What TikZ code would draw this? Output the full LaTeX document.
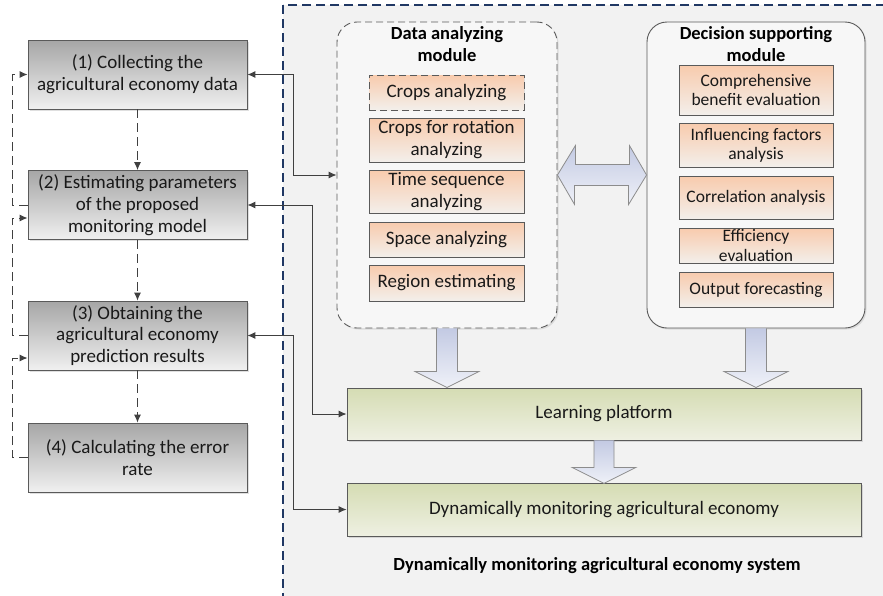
\documentclass[tikz,border=0pt]{standalone}
\usepackage{fontspec}
\setmainfont{Carlito}
\usetikzlibrary{arrows.meta,calc,shadows}

\definecolor{edgegray}{HTML}{5A5A5A}
\definecolor{linkgray}{HTML}{404040}
\definecolor{navy}{HTML}{203864}
\definecolor{grayTop}{HTML}{A6A6A6}
\definecolor{grayBot}{HTML}{F0F0F0}
\definecolor{peachTop}{HTML}{F8CBAD}
\definecolor{peachBot}{HTML}{F3EFEB}
\definecolor{oliveTop}{HTML}{D5DCB3}
\definecolor{oliveBot}{HTML}{EEF0E2}
\definecolor{fatTop}{HTML}{C3CAE3}
\definecolor{fatBot}{HTML}{EFF1F8}

% block arrow pointing down: start, half shaft, shoulder, tip
\newcommand{\downblock}[4]{%
  \draw[fat] (#1) +(-#2,0) -- +(-#2,#3) -- +(-32,#3) -- +(0,#4) -- +(32,#3) -- +(#2,#3) -- +(#2,0);}

\begin{document}
\begin{tikzpicture}[x=1pt,y=-1pt,
    stepbox/.style={draw=edgegray, line width=0.8pt, top color=grayTop, bottom color=grayBot,
      minimum width=219pt, minimum height=69pt, align=center, text=black!90,
      font=\fontsize{19}{21.7}\selectfont,
      drop shadow={shadow xshift=1.5pt, shadow yshift=-1.5pt, opacity=0.25}},
    subbox/.style={draw=edgegray, line width=0.8pt, top color=peachTop, bottom color=peachBot,
      minimum width=155pt, align=center, text=black!90, inner sep=1pt,
      font=\fontsize{19}{22}\selectfont,
      drop shadow={shadow xshift=1pt, shadow yshift=-1pt, opacity=0.2}},
    module/.style={draw=edgegray, line width=0.9pt, fill=white!97!black, rounded corners=20pt,
      minimum width=220pt, minimum height=306pt,
      drop shadow={shadow xshift=1.5pt, shadow yshift=-1.5pt, opacity=0.2}},
    title/.style={align=center, font=\fontsize{18.5}{21.7}\selectfont\bfseries},
    platbox/.style={draw=edgegray, line width=0.8pt, top color=oliveTop, bottom color=oliveBot,
      minimum width=514pt, minimum height=52pt, text=black!90,
      font=\fontsize{19}{22}\selectfont,
      drop shadow={shadow xshift=1.5pt, shadow yshift=-1.5pt, opacity=0.25}},
    fat/.style={draw=black!45, line width=0.8pt, top color=fatTop, bottom color=fatBot},
    link/.style={draw=linkgray, line width=1pt, {Latex[length=8pt,width=7pt]}-{Latex[length=8pt,width=7pt]}},
    back/.style={draw=linkgray, line width=1pt, dash pattern=on 9pt off 5pt, -{Latex[length=8pt,width=7pt]}}]

    \useasboundingbox (0,0) rectangle (883,595);

    % system frame
    \path[fill=white!95!black, draw=navy, line width=1.4pt, dash pattern=on 9pt off 5pt] (283,5) rectangle (900,620);

    % steps
    \node[stepbox] (s1) at (137.5,74.5) {(1) Collecting the\\agricultural economy data};
    \node[stepbox] (s2) at (137.5,205) {(2) Estimating parameters\\of the proposed\\monitoring model};
    \node[stepbox] (s3) at (137.5,335.5) {(3) Obtaining the\\agricultural economy\\prediction results};
    \node[stepbox] (s4) at (137.5,457.5) {(4) Calculating the error\\rate};

    % modules
    \node[module, dash pattern=on 7pt off 4pt] (da) at (447,175) {};
    \node[title] (dat) at (447,44) {Data analyzing\\module};
    \node[subbox, minimum height=35pt, dash pattern=on 7pt off 4pt] (d1) at (446.5,92.5) {Crops analyzing};
    \node[subbox, minimum height=44pt] (d2) at (446.5,140) {Crops for rotation\\analyzing};
    \node[subbox, minimum height=43pt] (d3) at (446.5,191.5) {Time sequence\\analyzing};
    \node[subbox, minimum height=35pt] (d4) at (446.5,239.5) {Space analyzing};
    \node[subbox, minimum height=36pt] (d5) at (446.5,283) {Region estimating};

    \node[module, minimum width=218pt] (ds) at (756,175) {};
    \node[title] (dst) at (756,44) {Decision supporting\\module};
    \node[subbox, minimum width=154pt, minimum height=50pt, font=\fontsize{17.5}{19}\selectfont] (e1) at (756,90) {Comprehensive\\benefit evaluation};
    \node[subbox, minimum width=154pt, minimum height=44pt, font=\fontsize{17.5}{19}\selectfont] (e2) at (756,145) {Influencing factors\\analysis};
    \node[subbox, minimum width=154pt, minimum height=43pt, font=\fontsize{17.5}{19}\selectfont] (e3) at (756,197.5) {Correlation analysis};
    \node[subbox, minimum width=154pt, minimum height=35pt, font=\fontsize{17.5}{20}\selectfont] (e4) at (756,245.5) {Efficiency\\evaluation};
    \node[subbox, minimum width=154pt, minimum height=35pt, font=\fontsize{17.5}{19}\selectfont] (e5) at (756,289.5) {Output forecasting};

    % platform and output
    \node[platbox] (lp) at (604,414) {Learning platform};
    \node[platbox, minimum height=53pt] (dm) at (604,509.5) {Dynamically monitoring agricultural economy};
    \node[title] (cap) at (597,566) {Dynamically monitoring agricultural economy system};

    % block arrows
    \draw[fat] (da.east) -- +(18,-29.5) -- +(18,-10.5) -- +(72,-10.5) -- +(72,-29.5) -- (ds.west)
        -- +(-18,29.5) -- +(-18,10.5) -- +(-72,10.5) -- +(-72,29.5) -- cycle;
    \downblock{da.south}{10.5}{43}{59}
    \downblock{ds.south}{10.5}{43}{59}
    \downblock{lp.south}{10}{27}{43}

    % flow between steps
    \path[back] (s1) -- (s2);
    \path[back] (s2) -- (s3);
    \path[back] (s3) -- (s4);

    % feedback on the left
    \coordinate (lx) at (12,0);
    \path[back] (s2.west) -- (s2.west -| lx) |- (s1.west);
    \path[back] (s3.west) -- (s3.west -| lx) |- ($(s2.west)+(0,13)$);
    \path[back] (s4.west) -- (s4.west -| lx) |- ($(s3.west)+(0,22.5)$);

    % links into the system
    \coordinate (ra) at (293,0);
    \coordinate (rb) at (312,0);
    \path[link] (s1.east) -- (s1.east -| ra) |- (da.west);
    \path[link] (s2.east) -- (s2.east -| rb) |- (lp.west);
    \path[link] (s3.east) -- (s3.east -| ra) |- (dm.west);
\end{tikzpicture}
\end{document}
